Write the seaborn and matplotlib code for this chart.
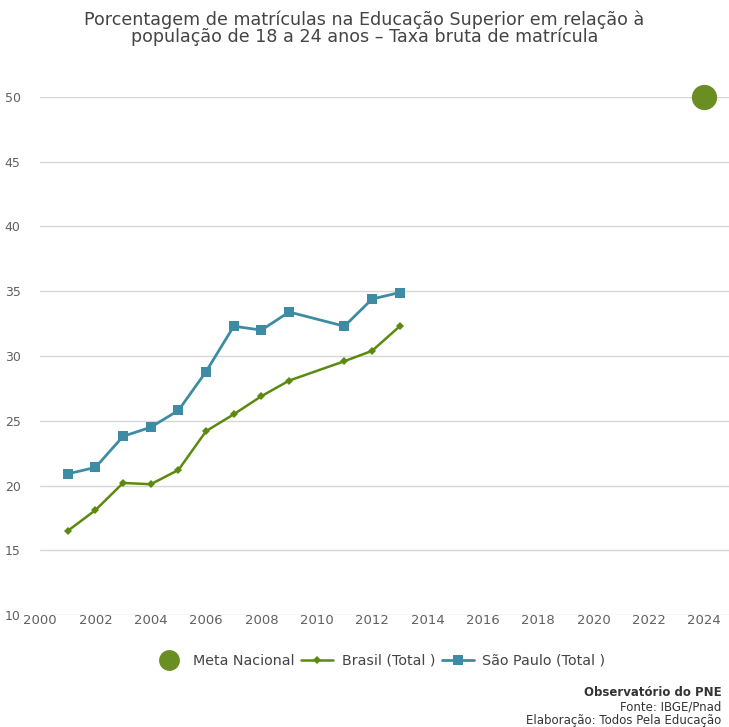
import matplotlib
matplotlib.use("Agg")
import matplotlib.pyplot as plt
from matplotlib.lines import Line2D
import seaborn as sns
import pandas as pd

# Taxa bruta de matrícula (%)
years = [2001, 2002, 2003, 2004, 2005, 2006, 2007, 2008, 2009, 2011, 2012, 2013]
brasil = [16.5, 18.1, 20.2, 20.1, 21.2, 24.2, 25.5, 26.9, 28.1, 29.6, 30.4, 32.3]
sao_paulo = [20.9, 21.4, 23.8, 24.5, 25.8, 28.8, 32.3, 32.0, 33.4, 32.3, 34.4, 34.9]
meta_year = [2024]
meta_value = [50]

x_ticks = list(range(2000, 2025, 2))
y_ticks = [10, 15, 20, 25, 30, 35, 40, 45, 50]

GREEN_META = "#6b8e23"
GREEN_LINE = "#5b8a0e"
TEAL = "#3d8ca3"
GRID = "#d6d6d6"
TEXT = "#606060"

sns.set_theme(style="white")
plt.rcParams["font.family"] = ["DejaVu Sans"]

df = pd.DataFrame({
    "ano": years * 2,
    "taxa": brasil + sao_paulo,
    "serie": ["Brasil (Total )"] * len(years) + ["São Paulo (Total )"] * len(years),
})
meta = pd.DataFrame({"ano": meta_year, "taxa": meta_value})

fig = plt.figure(figsize=(7.29, 7.27), dpi=100)
ax = fig.add_axes([0.055, 0.154, 0.945, 0.7126])

for y in y_ticks:
    ax.axhline(y, color=GRID, lw=1, zorder=0)

sns.lineplot(data=df[df.serie == "São Paulo (Total )"], x="ano", y="taxa", ax=ax,
             color=TEAL, lw=2, marker="s", markersize=7, markeredgewidth=0,
             legend=False, zorder=3)
sns.lineplot(data=df[df.serie == "Brasil (Total )"], x="ano", y="taxa", ax=ax,
             color=GREEN_LINE, lw=1.8, marker="D", markersize=4.5, markeredgewidth=0,
             legend=False, zorder=4)
sns.scatterplot(data=meta, x="ano", y="taxa", ax=ax, color=GREEN_META, s=330,
                linewidth=0, legend=False, zorder=5, clip_on=False)

ax.set_xlim(2000, 2024.9)
ax.set_ylim(10, 50)
ax.set_xticks(x_ticks)
ax.set_yticks(y_ticks)
ax.set_xlabel("")
ax.set_ylabel("")
for s in ax.spines.values():
    s.set_visible(False)
ax.tick_params(axis="x", colors=GRID, length=5, width=1, direction="in", pad=-1,
               labelcolor=TEXT, labelsize=9.5)
ax.tick_params(axis="y", length=0, labelcolor=TEXT, labelsize=9, pad=14)

fig.text(0.5, 0.985, "Porcentagem de matrículas na Educação Superior em relação à\n"
         "população de 18 a 24 anos – Taxa bruta de matrícula",
         ha="center", va="top", fontsize=12.6, color="#444444", linespacing=0.9)

handles = [
    Line2D([], [], marker="o", color="none", markerfacecolor=GREEN_META,
           markeredgewidth=0, markersize=15),
    Line2D([], [], color=GREEN_LINE, lw=1.8, marker="D", markersize=4.5,
           markeredgewidth=0),
    Line2D([], [], color=TEAL, lw=2, marker="s", markersize=7, markeredgewidth=0),
]
fig.legend(handles, ["Meta Nacional", "Brasil (Total )", "São Paulo (Total )"],
           loc="center", bbox_to_anchor=(0.52, 0.091), ncol=3, frameon=False,
           fontsize=10.3, handlelength=2.2, handletextpad=0.6, columnspacing=0.5,
           labelcolor="#444444")

fig.text(0.99, 0.047, "Observatório do PNE", ha="right", va="center",
         fontsize=8.5, fontweight="bold", color="#333333")
fig.text(0.99, 0.027, "Fonte: IBGE/Pnad", ha="right", va="center",
         fontsize=8.5, color="#333333")
fig.text(0.99, 0.009, "Elaboração: Todos Pela Educação", ha="right", va="center",
         fontsize=8.5, color="#333333")

fig.savefig("out.png", dpi=100)
